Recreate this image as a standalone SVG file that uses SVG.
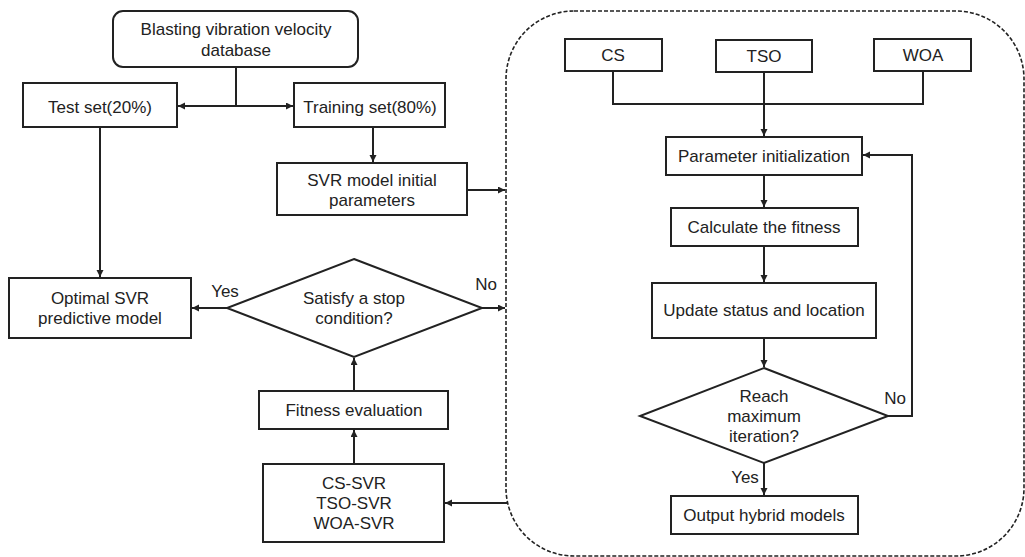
<svg xmlns="http://www.w3.org/2000/svg" width="1025" height="557" viewBox="0 0 1025 557">
<style>
.box{fill:#fff;stroke:#222;stroke-width:2}
.ln{fill:none;stroke:#222;stroke-width:2}
.arr{fill:none;stroke:#222;stroke-width:2;marker-end:url(#ah)}
.t{font-family:"Liberation Sans",Arial,sans-serif;font-size:17px;fill:#222;text-anchor:middle}
.dash{fill:none;stroke:#222;stroke-width:1.6;stroke-dasharray:4 2}
</style>
<defs>
<marker id="ah" markerWidth="8" markerHeight="8" refX="7" refY="3.5" orient="auto" markerUnits="userSpaceOnUse">
<path d="M0,0 L7,3.5 L0,7 z" fill="#222"/>
</marker>
</defs>
<rect id="container" class="dash" x="506" y="11" width="518" height="545" rx="68" ry="68"/>
<g id="connectors">
<path class="ln" d="M236,67 V106"/>
<path class="arr" d="M236,106 H178"/>
<path class="arr" d="M236,106 H293"/>
<path class="arr" d="M100,127 V277"/>
<path class="arr" d="M373,127 V162"/>
<path class="arr" d="M467,190 H505"/>
<path class="arr" d="M227,308 H192"/>
<path class="arr" d="M482,308 H505"/>
<path class="arr" d="M354,391 V358"/>
<path class="arr" d="M354,464 V430"/>
<path class="arr" d="M508,503 H445"/>
<path class="ln" d="M613,71 V104 H923 V71"/>
<path class="arr" d="M764,72 V136"/>
<path class="arr" d="M764,175 V207"/>
<path class="arr" d="M764,246 V282"/>
<path class="arr" d="M764,338 V367"/>
<path class="arr" d="M764,463 V495"/>
<path class="arr" d="M888,416 H912 V155 H863"/>
</g>
<g id="n_db"><rect class="box" x="113" y="11" width="245" height="56" rx="10"/><text class="t" x="236" y="35">Blasting vibration velocity</text><text class="t" x="236" y="56">database</text></g>
<g id="n_test"><rect class="box" x="23" y="83" width="154" height="44"/><text class="t" x="100" y="113">Test set(20%)</text></g>
<g id="n_train"><rect class="box" x="294" y="83" width="151" height="44"/><text class="t" x="370" y="113">Training set(80%)</text></g>
<g id="n_svrinit"><rect class="box" x="277" y="163" width="190" height="52"/><text class="t" x="372" y="186">SVR model initial</text><text class="t" x="372" y="206">parameters</text></g>
<g id="n_opt"><rect class="box" x="9" y="278" width="182" height="60"/><text class="t" x="100" y="304">Optimal SVR</text><text class="t" x="100" y="324">predictive model</text></g>
<g id="n_stop"><path class="box" d="M354,259 L482,308 L354,357 L227,308 Z"/><text class="t" x="354" y="304">Satisfy a stop</text><text class="t" x="354" y="324">condition?</text></g>
<g id="n_fiteval"><rect class="box" x="259" y="391" width="189" height="38"/><text class="t" x="354" y="416">Fitness evaluation</text></g>
<g id="n_hybrids"><rect class="box" x="263" y="464" width="181" height="78"/><text class="t" x="354" y="489">CS-SVR</text><text class="t" x="354" y="509">TSO-SVR</text><text class="t" x="354" y="529">WOA-SVR</text></g>
<g id="n_cs"><rect class="box" x="565" y="39" width="97" height="32"/><text class="t" x="613" y="61">CS</text></g>
<g id="n_tso"><rect class="box" x="716" y="40" width="96" height="32"/><text class="t" x="764" y="62">TSO</text></g>
<g id="n_woa"><rect class="box" x="874" y="39" width="97" height="32"/><text class="t" x="923" y="61">WOA</text></g>
<g id="n_param"><rect class="box" x="666" y="137" width="196" height="38"/><text class="t" x="764" y="162">Parameter initialization</text></g>
<g id="n_calc"><rect class="box" x="671" y="208" width="187" height="38"/><text class="t" x="764" y="233">Calculate the fitness</text></g>
<g id="n_update"><rect class="box" x="652" y="283" width="224" height="55"/><text class="t" x="764" y="316">Update status and location</text></g>
<g id="n_reach"><path class="box" d="M764,368 L888,416 L764,463 L640,416 Z"/><text class="t" x="764" y="402">Reach</text><text class="t" x="764" y="422">maximum</text><text class="t" x="764" y="442">iteration?</text></g>
<g id="n_output"><rect class="box" x="671" y="496" width="187" height="38"/><text class="t" x="764" y="521">Output hybrid models</text></g>
<g id="labels">
<text class="t" x="225" y="297">Yes</text>
<text class="t" x="486" y="290">No</text>
<text class="t" x="895" y="404">No</text>
<text class="t" x="745" y="483">Yes</text>
</g>
</svg>
